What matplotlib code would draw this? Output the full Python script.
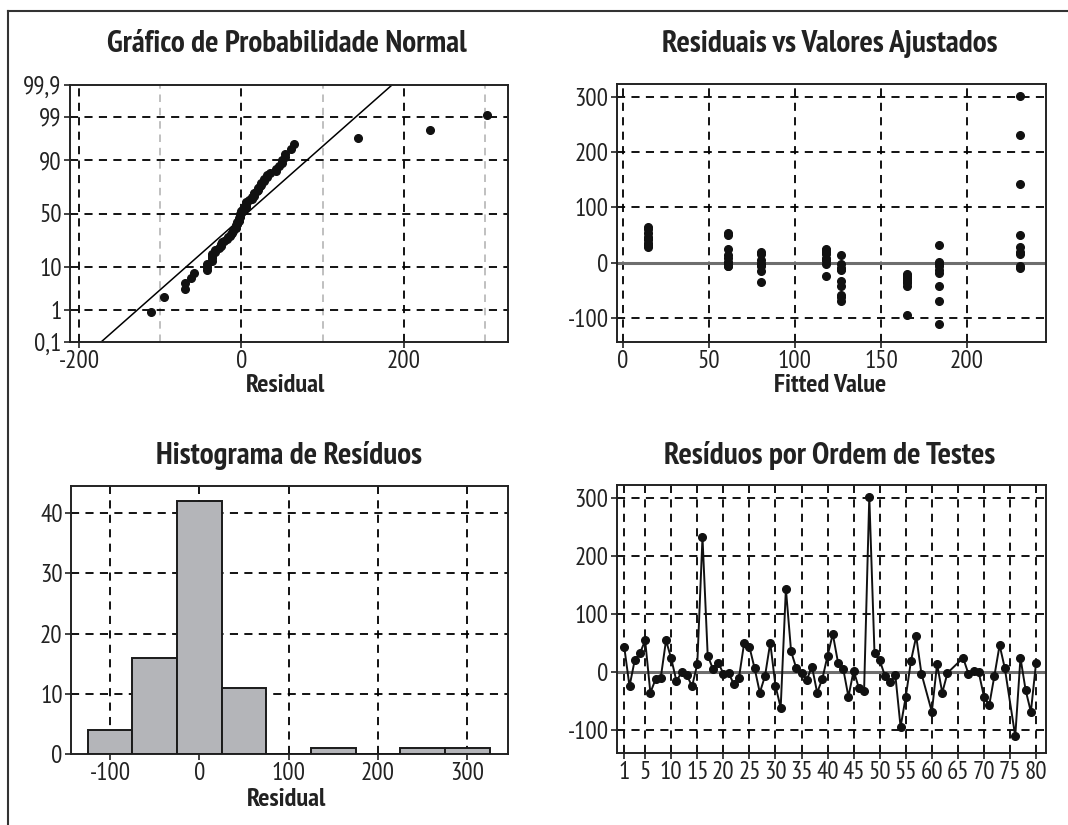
import math
import numpy as np
import matplotlib
matplotlib.use("Agg")
import matplotlib.pyplot as plt
from matplotlib.lines import Line2D

plt.rcParams["font.family"] = ["PT Sans Narrow", "Fira Sans Condensed", "Sofia Sans Condensed",
                               "Liberation Sans", "DejaVu Sans"]
plt.rcParams["axes.unicode_minus"] = False

# residuals in run order (runs 59, 64, 65, 75 missing)
residuals = [
    42, -25, 20, 32, 54, -36, -13, -10,
    54, 23, -16, -1, -6, -25, 13, 232,
    28, 5, 16, -3, -2, -21, -10, 50,
    43, 6, -36, -7, 50, -24, -62, 143,
    35, 6, -2, -14, 9, -36, -12, 28,
    65, 16, 5, -43, 2, -28, -33, 302,
    32, 20, -7, -18, -6, -95, -43, 19,
    61, -3, np.nan, -69, 13, -36, -2, np.nan,
    np.nan, 24, -3, 2, -1, -43, -58, -7,
    46, 6, np.nan, -111, 24, -32, -69, 16,
]

# fitted value of each run
fitted = [
    14.5, 118, 80, 184, 61, 165, 127, 231,
    14.5, 118, 80, 184, 61, 165, 127, 231,
    14.5, 118, 80, 184, 61, 165, 127, 231,
    14.5, 118, 80, 184, 61, 165, 127, 231,
    14.5, 118, 80, 184, 61, 165, 127, 231,
    14.5, 118, 80, 184, 61, 165, 127, 231,
    14.5, 118, 80, 184, 61, 165, 127, 231,
    14.5, 118, 80, 184, 61, 165, 127, 231,
    14.5, 118, 80, 184, 61, 165, 127, 231,
    14.5, 118, 80, 184, 61, 165, 127, 231,
]

# histogram
hist_centers = [-100, -50, 0, 50, 100, 150, 200, 250, 300]
hist_counts = [4, 16, 42, 11, 0, 1, 0, 1, 1]

prob_ticks = [0.1, 1, 10, 50, 90, 99, 99.9]
prob_labels = ["0,1", "1", "10", "50", "90", "99", "99,9"]
order_ticks = [1, 5, 10, 15, 20, 25, 30, 35, 40, 45, 50, 55, 60, 65, 70, 75, 80]


def norm_ppf(p):
    lo, hi = -10.0, 10.0
    for _ in range(80):
        mid = (lo + hi) / 2
        if 0.5 * (1 + math.erf(mid / math.sqrt(2))) < p:
            lo = mid
        else:
            hi = mid
    return (lo + hi) / 2


W, H = 1068, 825
fig = plt.figure(figsize=(W / 100, H / 100), dpi=100)

DASH = (0, (4.5, 3.5))
GRID = dict(color="black", lw=1.3, linestyle=DASH, zorder=1)
TITLE = dict(fontsize=22.5, fontweight="bold", ha="center", va="center", color="#222222")
XLAB = dict(fontsize=19, fontweight="bold", ha="center", va="center", color="#222222")


def make_axes(left, top, right, bottom):
    ax = fig.add_axes([left / W, 1 - bottom / H, (right - left) / W, (bottom - top) / H])
    for s in ax.spines.values():
        s.set_linewidth(1.4)
        s.set_color("#222222")
    ax.tick_params(direction="out", length=4, width=1.2, pad=2, labelsize=18, colors="#222222")
    return ax


def ftext(x, y, s, **kw):
    fig.text(x / W, 1 - y / H, s, **kw)


# frame around the figure
fig.add_artist(Line2D([8 / W, 1], [1 - 11 / H, 1 - 11 / H], color="#333333", lw=1.5))
fig.add_artist(Line2D([8 / W, 8 / W], [0, 1 - 11 / H], color="#333333", lw=1.5))

res = np.array(residuals, dtype=float)
fit = np.array(fitted, dtype=float)
runs = np.arange(1, len(res) + 1)
ok = ~np.isnan(res)

# ---- normal probability plot ----
ax1 = make_axes(70, 85, 508, 342)
vals = np.sort(res[ok])
n = len(vals)
pz = np.array([norm_ppf((i - 0.3) / (n + 0.4)) for i in range(1, n + 1)])
zt = [norm_ppf(p / 100) for p in prob_ticks]
for x in [-100, 100, 300]:
    ax1.axvline(x, color="#b5b5b5", lw=1.2, linestyle=DASH, zorder=1)
for x in [-200, 0, 200]:
    ax1.axvline(x, **GRID)
for z in zt[1:-1]:
    ax1.axhline(z, **GRID)
mu, sd = vals.mean(), vals.std(ddof=1)
zz = np.array([-3.5, 3.5])
ax1.plot(mu + sd * zz, zz, color="black", lw=1.1, zorder=2)
ax1.plot(vals, pz, "o", color="#111111", ms=5.5, zorder=3)
ax1.set_xlim(-211, 328)
ax1.set_ylim(zt[0], zt[-1])
ax1.set_yticks(zt)
ax1.set_yticklabels(prob_labels)
ax1.set_xticks([-200, 0, 200])
ftext(287, 44, "Gráfico de Probabilidade Normal", **TITLE)
ftext(286, 386, "Residual", **XLAB)

# ---- residuals vs fitted ----
ax2 = make_axes(617, 84, 1046, 342)
for x in [0, 50, 100, 150, 200]:
    ax2.axvline(x, **GRID)
for y in [-100, 100, 200, 300]:
    ax2.axhline(y, **GRID)
ax2.axhline(0, color="#6e6e6e", lw=2.2, zorder=2)
ax2.plot(fit[ok], res[ok], "o", color="#111111", ms=5.5, zorder=3)
ax2.set_xlim(-3.5, 246)
ax2.set_ylim(-144, 324)
ax2.set_xticks([0, 50, 100, 150, 200])
ax2.set_yticks([-100, 0, 100, 200, 300])
ftext(830, 44, "Residuais vs Valores Ajustados", **TITLE)
ftext(830, 386, "Fitted Value", **XLAB)

# ---- histogram ----
ax3 = make_axes(71, 486, 508, 754)
for x in [-100, 0, 100, 200, 300]:
    ax3.axvline(x, **GRID)
for y in [10, 20, 30, 40]:
    ax3.axhline(y, **GRID)
ax3.bar(hist_centers, hist_counts, width=50, color="#b4b5b9", edgecolor="#1a1a1a",
        linewidth=1.4, zorder=3)
ax3.set_xlim(-143.7, 345.6)
ax3.set_ylim(0, 44.5)
ax3.set_xticks([-100, 0, 100, 200, 300])
ax3.set_yticks([0, 10, 20, 30, 40])
ftext(289, 455, "Histograma de Resíduos", **TITLE)
ftext(287, 800, "Residual", **XLAB)

# ---- residuals by run order ----
ax4 = make_axes(617, 485, 1046, 753)
for x in order_ticks:
    ax4.axvline(x, **GRID)
for y in [-100, 100, 200, 300]:
    ax4.axhline(y, **GRID)
ax4.axhline(0, color="#6e6e6e", lw=2.2, zorder=2)
ax4.plot(runs[ok], res[ok], "-", color="#111111", lw=1.4, zorder=3)
ax4.plot(runs[ok], res[ok], "o", color="#111111", ms=5.5, zorder=4)
ax4.set_xlim(-0.4, 81.9)
ax4.set_ylim(-140, 322)
ax4.set_xticks(order_ticks)
ax4.set_yticks([-100, 0, 100, 200, 300])
ftext(830, 455, "Resíduos por Ordem de Testes", **TITLE)

fig.savefig("out.png", dpi=100)
